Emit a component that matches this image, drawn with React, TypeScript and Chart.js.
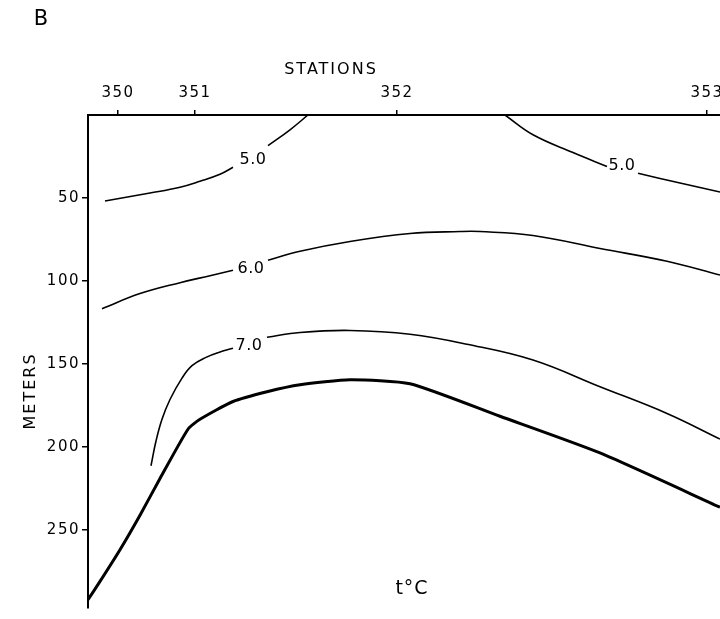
import React, { useEffect, useRef } from "react";
import { Chart, registerables } from "chart.js";

Chart.register(...registerables);

// Distance along section (arbitrary distance units) and depth (m)
const stationLabels = ["350", "351", "352", "353"];
const stationDist = [30, 107, 309, 619];
const depthTicks = [50, 100, 150, 200, 250];

// Isotherm 5.0 (west branch), null = label gap
const iso5wX = [17, 62, 92, 112, 132, 145, 162, 180, 202, 220];
const iso5wY = [51.8, 47.0, 43.5, 39.9, 35.7, 31.5, null, 18.5, 8.9, 0];

// Isotherm 5.0 (east branch)
const iso5eX = [417, 445, 485, 519, 535, 550, 592, 632];
const iso5eY = [0, 11.9, 22.6, 31.0, null, 35.1, 41.0, 46.4];

// Isotherm 6.0
const iso6X = [14, 52, 92, 122, 145, 162, 180, 212, 262, 322, 372, 392, 445, 512, 579, 632];
const iso6Y = [116.7, 107.6, 101.0, 96.8, 93.5, null, 87.5, 82.1, 76.2, 71.4, 70.2, 70.2, 72.6, 80.4, 88.1, 96.4];

// Isotherm 7.0
const iso7X = [63, 68, 74, 82, 94, 104, 118, 132, 145, 162, 179, 212, 262, 322, 379, 445, 512, 579, 632];
const iso7Y = [211.3, 196.4, 183.3, 171.4, 158.5, 151.0, 146.0, 142.8, 140.5, null, 133.9, 131.0, 129.8, 132.1, 138.1, 147.6, 163.7, 179.8, 195.2];

// Bottom (thick line)
const bottomX = [0, 12, 32, 52, 72, 100, 112, 145, 179, 212, 262, 322, 412, 512, 632];
const bottomY = [292, 281, 261.9, 241.1, 219, 189.3, 183.3, 172.6, 166.7, 162.5, 159.5, 161.9, 181.5, 203.6, 236.3];

// Contour labels
const contourLabels = ["5.0", "5.0", "6.0", "7.0"];
const contourLabelX = [165, 534, 163, 161];
const contourLabelY = [26.8, 30.4, 92.9, 139.3];

const FONT = "'DejaVu Sans', sans-serif";

function pts(xs: number[], ys: (number | null)[]) {
  return xs.map((x, i) => ({ x, y: ys[i] }));
}

const textPlugin = {
  id: "textPlugin",
  beforeDraw(chart: any) {
    chart.ctx.letterSpacing = "1.5px";
  },
  afterDraw(chart: any) {
    const ctx = chart.ctx;
    const xs = chart.scales.x;
    const ys = chart.scales.y;
    ctx.save();
    ctx.fillStyle = "#000";
    ctx.textAlign = "center";
    ctx.textBaseline = "middle";
    ctx.letterSpacing = "0px";
    ctx.font = `21px ${FONT}`;
    ctx.fillText("B", 41, 20);
    ctx.letterSpacing = "2px";
    ctx.font = `16px ${FONT}`;
    ctx.fillText("STATIONS", 331, 70);
    ctx.save();
    ctx.translate(31, 391);
    ctx.rotate(-Math.PI / 2);
    ctx.fillText("METERS", 0, 0);
    ctx.restore();
    ctx.letterSpacing = "1px";
    ctx.font = `19px ${FONT}`;
    ctx.fillText("t°C", 412, 589);
    ctx.letterSpacing = "0.5px";
    ctx.font = `16px ${FONT}`;
    contourLabels.forEach((t, i) => {
      ctx.fillText(t, xs.getPixelForValue(contourLabelX[i]), ys.getPixelForValue(contourLabelY[i]));
    });
    ctx.restore();
    ctx.letterSpacing = "0px";
  },
};

export default function App() {
  const ref = useRef<HTMLCanvasElement | null>(null);
  useEffect(() => {
    if (!ref.current) return;
    const thin = {
      borderColor: "#000",
      borderWidth: 1.6,
      pointRadius: 0,
      fill: false,
      spanGaps: false,
      tension: 0.4,
    };
    const chart = new Chart(ref.current, {
      type: "line",
      data: {
        datasets: [
          { ...thin, label: "5.0 W", data: pts(iso5wX, iso5wY) },
          { ...thin, label: "5.0 E", data: pts(iso5eX, iso5eY) },
          { ...thin, label: "6.0", data: pts(iso6X, iso6Y) },
          { ...thin, label: "7.0", data: pts(iso7X, iso7Y) },
          { ...thin, borderWidth: 3, tension: 0.2, label: "bottom", data: pts(bottomX, bottomY) },
        ],
      },
      plugins: [textPlugin],
      options: {
        animation: false,
        responsive: false,
        devicePixelRatio: 1,
        layout: { padding: 0 },
        plugins: { legend: { display: false }, tooltip: { enabled: false }, title: { display: false } },
        scales: {
          x: {
            type: "linear",
            position: "top",
            min: 0,
            max: 632,
            afterBuildTicks: (s: any) => {
              s.ticks = stationDist.map((v) => ({ value: v }));
            },
            afterFit: (s: any) => {
              s.height = 115;
              s.paddingLeft = 0;
              s.paddingRight = 0;
            },
            ticks: {
              autoSkip: false,
              maxRotation: 0,
              padding: 8,
              color: "#000",
              font: { family: FONT, size: 15 },
              callback: (_v: any, i: number) => stationLabels[i],
            },
            grid: { drawOnChartArea: false, tickLength: 5, color: "#000", lineWidth: 1.5 },
            border: { display: true, color: "#000", width: 2 },
          },
          y: {
            type: "linear",
            reverse: true,
            min: 0,
            max: 297,
            afterBuildTicks: (s: any) => {
              s.ticks = depthTicks.map((v) => ({ value: v }));
            },
            afterFit: (s: any) => {
              s.width = 88;
            },
            ticks: {
              padding: 2,
              color: "#000",
              font: { family: FONT, size: 15 },
            },
            grid: { drawOnChartArea: false, tickLength: 6, color: "#000", lineWidth: 1.5 },
            border: { display: true, color: "#000", width: 2 },
          },
        },
      },
    });
    return () => chart.destroy();
  }, []);
  return (
    <div style={{ position: "absolute", left: 0, top: 0, width: 720, height: 619, background: "#fff" }}>
      <canvas ref={ref} width={720} height={619} style={{ display: "block", width: 720, height: 619 }} />
    </div>
  );
}
